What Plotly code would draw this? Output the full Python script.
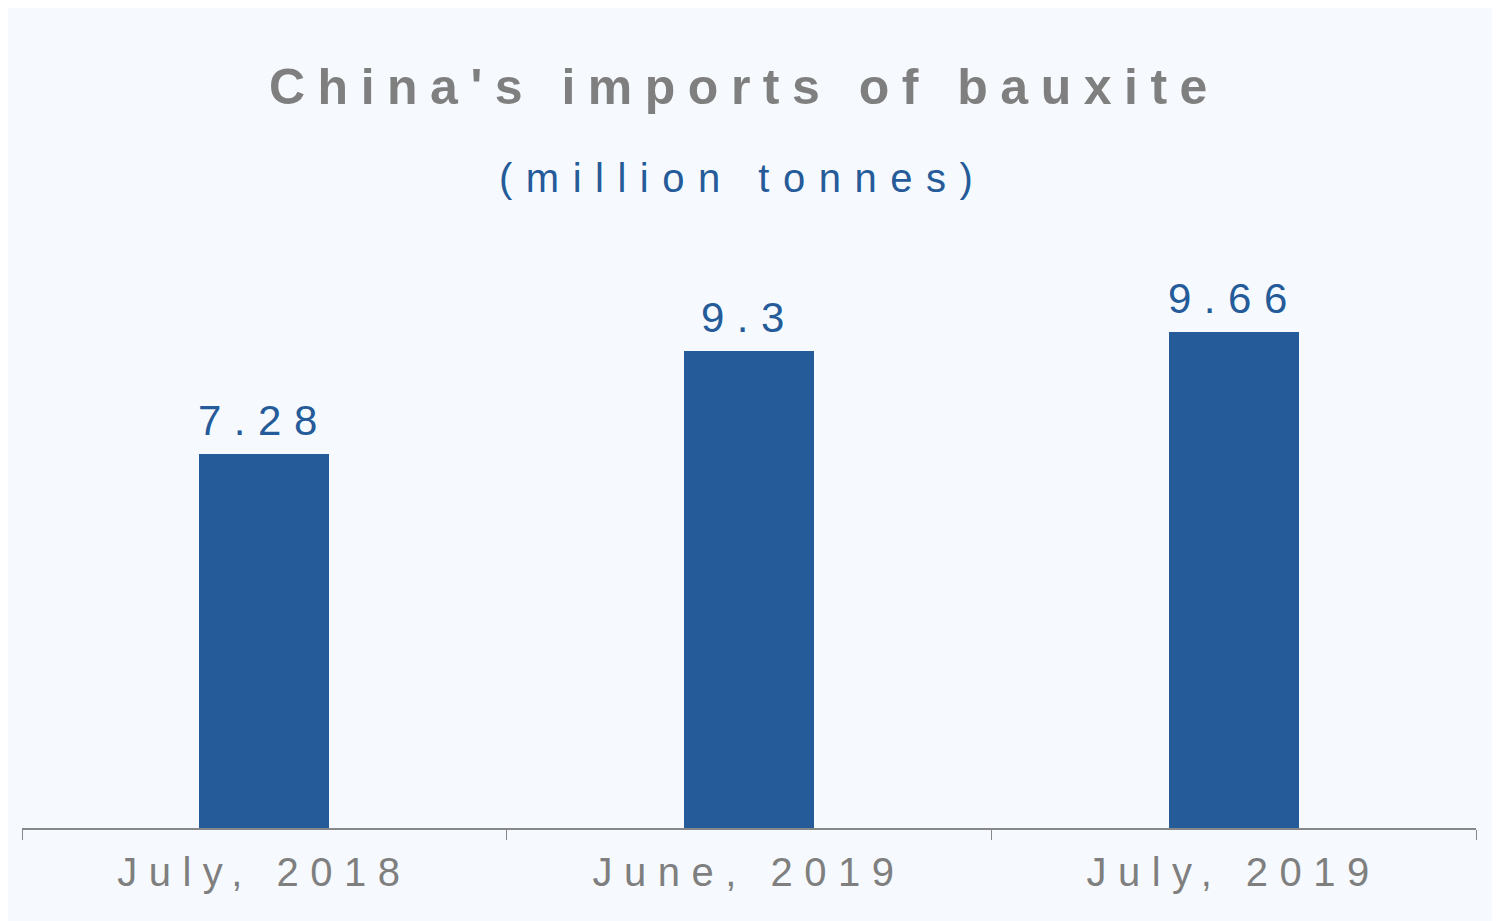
import plotly.graph_objects as go

categories = ["July, 2018", "June, 2019", "July, 2019"]
imports_mt = [7.28, 9.3, 9.66]

bar_colour = "#255b99"
grey = "#7f7f7f"
bg = "#f6fafe"
font_family = "Liberation Sans, Arial"


def spaced(txt, px):
    return f'<span style="letter-spacing:{px}px">{txt}</span>'


fig = go.Figure()
fig.add_trace(
    go.Bar(
        x=categories,
        y=imports_mt,
        marker=dict(color=bar_colour, line=dict(width=0)),
        width=0.268,
        hoverinfo="x+y",
    )
)

# value labels above bars
for c, v in zip(categories, imports_mt):
    fig.add_annotation(
        x=c,
        y=v,
        text=spaced(f"{v:g}", 12.5),
        showarrow=False,
        yanchor="bottom",
        yshift=8,
        xshift=0,
        font=dict(family=font_family, size=42, color=bar_colour),
    )

# title + subtitle (page sits 8px in from the window edge)
fig.add_annotation(
    text=spaced("<b>China's imports of bauxite</b>", 12.5),
    xref="paper", yref="paper", x=0.5, y=1.0, yanchor="middle",
    xshift=-5, yshift=125,
    showarrow=False,
    font=dict(family=font_family, size=50, color=grey),
)
fig.add_annotation(
    text=spaced("(million tonnes)", 13.5),
    xref="paper", yref="paper", x=0.5, y=1.0, yanchor="middle",
    xshift=-7, yshift=34,
    showarrow=False,
    font=dict(family=font_family, size=40, color=bar_colour),
)

fig.update_xaxes(
    tickmode="array",
    tickvals=categories,
    ticktext=[spaced(c, 11.5) for c in categories],
    tickson="boundaries",
    ticks="outside",
    ticklen=10,
    tickcolor="#888888",
    ticklabelstandoff=8,
    showline=True,
    linecolor="#888888",
    linewidth=1.5,
    showgrid=False,
    tickfont=dict(family=font_family, size=40, color=grey),
    range=[-0.5, 2.5],
)
fig.update_yaxes(visible=False, range=[0, 12])

fig.update_layout(
    width=1492,
    height=913,
    paper_bgcolor=bg,
    plot_bgcolor=bg,
    showlegend=False,
    bargap=0,
    margin=dict(l=14, r=24, t=204, b=93),
)

fig.write_html("out.html")
